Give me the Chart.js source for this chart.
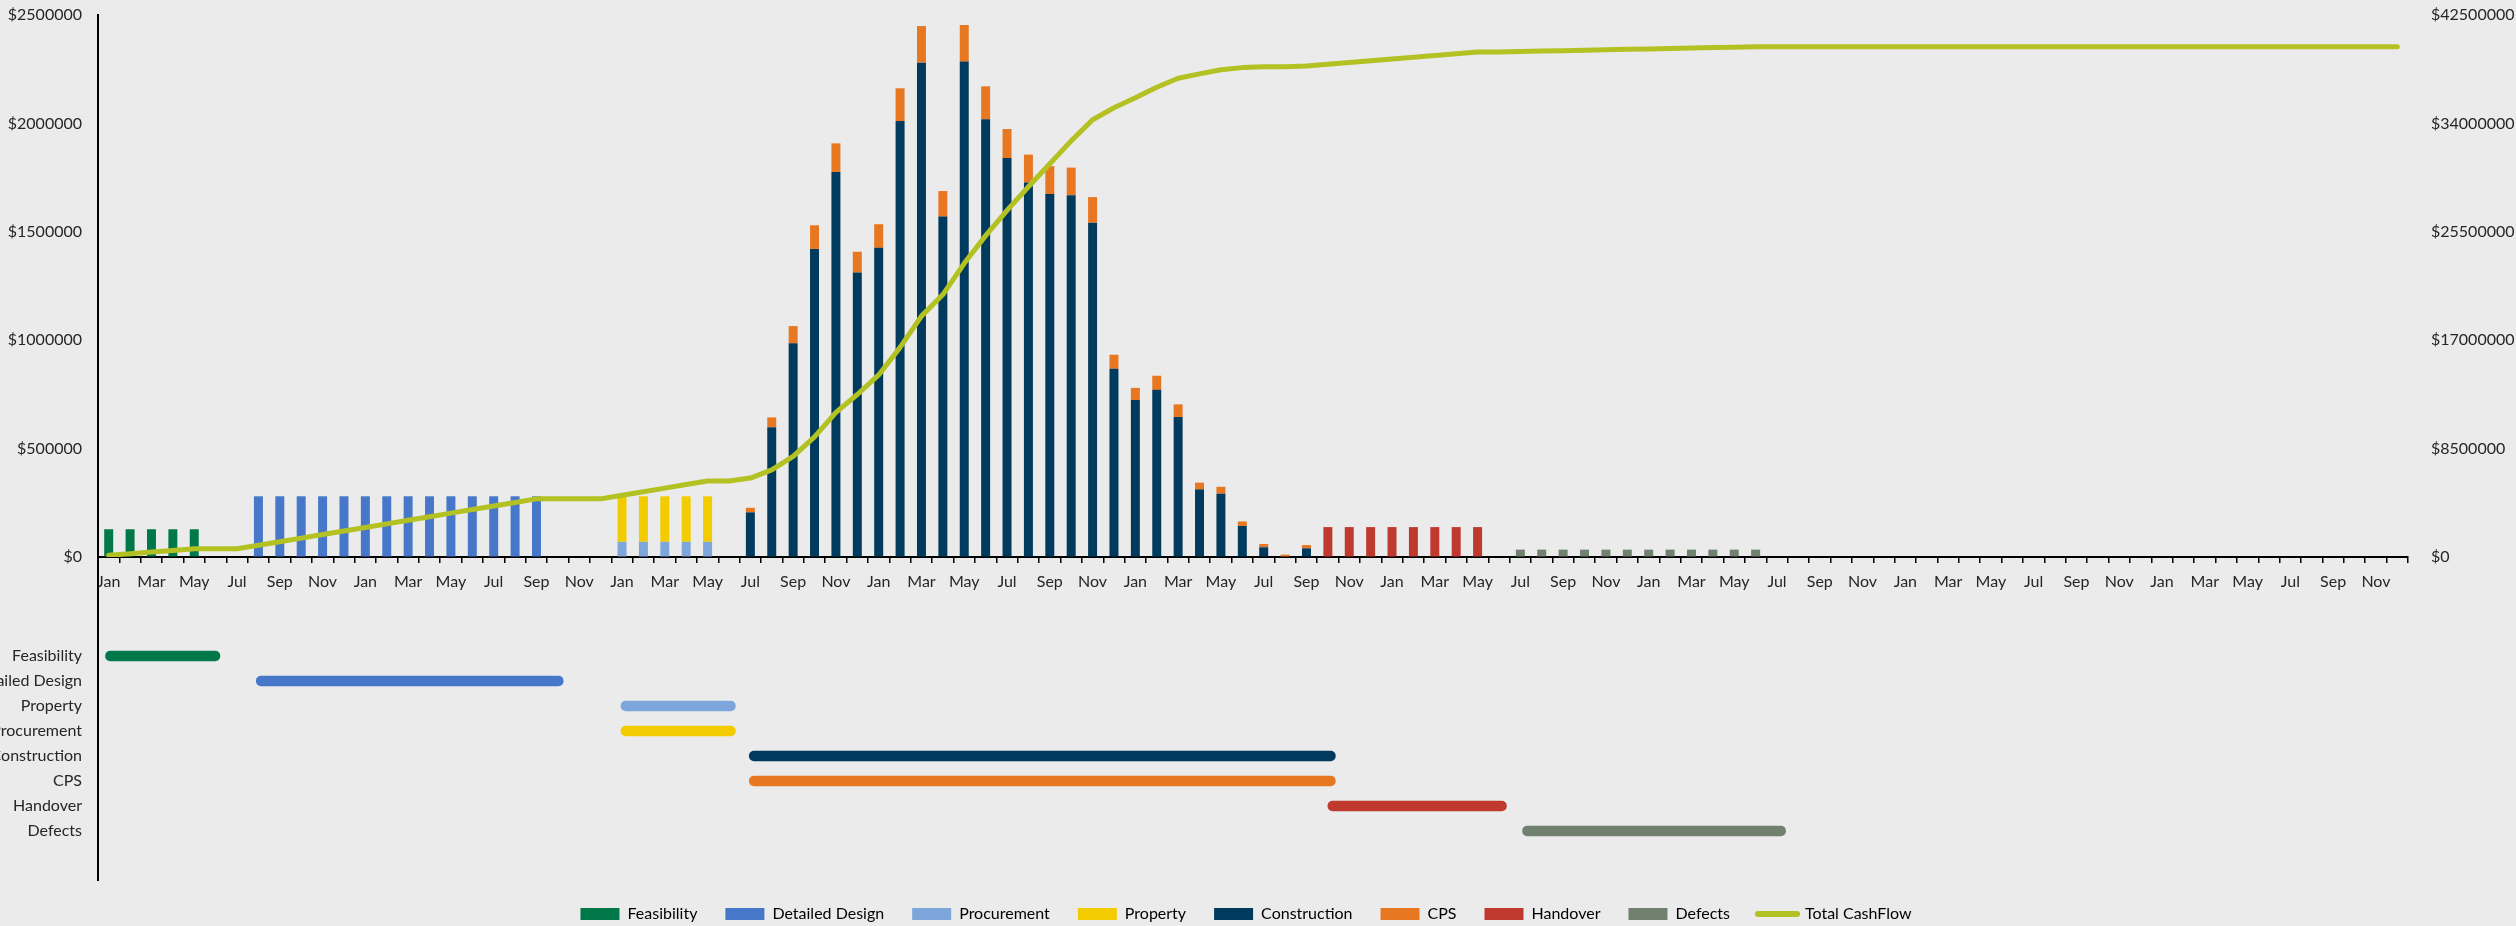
<!DOCTYPE html>
<html>
<head>
<meta charset="utf-8">
<script src="https://cdn.jsdelivr.net/npm/chart.js@4/dist/chart.umd.min.js"></script>
<style>
html,body{margin:0;padding:0;background:#ebebeb;overflow:hidden;}
#wrap{position:relative;width:2516px;height:926px;background:#ebebeb;overflow:hidden;}
#topChart{position:absolute;left:0;top:0;}
#botChart{position:absolute;left:0;top:611px;}
</style>
</head>
<body>
<div id="wrap">
<canvas id="topChart" width="2516" height="611"></canvas>
<canvas id="botChart" width="2516" height="321"></canvas>
</div>
<script>
// ---------- DATA ----------
const monthNames = ['Jan','Feb','Mar','Apr','May','Jun','Jul','Aug','Sep','Oct','Nov','Dec'];
const yearCount = 9;

const leftTicks = { min: 0, max: 2500000, step: 500000 };
const rightTicks = { min: 0, max: 42500000, step: 8500000 };

const feasibilityStart = 0;
const feasibility = [128000, 128000, 128000, 128000, 128000];

const detailedDesignStart = 7;
const detailedDesign = [280000, 280000, 280000, 280000, 280000, 280000, 280000,
                        280000, 280000, 280000, 280000, 280000, 280000, 280000];

const procurementStart = 24;
const procurement = [70000, 70000, 70000, 70000, 70000];

const propertyStart = 24;
const property = [210000, 210000, 210000, 210000, 210000];

const constructionStart = 30;
const construction = [206000, 599000, 986000, 1421000, 1776000, 1312000, 1426000, 2011000, 2280000,
                      1570000, 2285000, 2019000, 1840000, 1727000, 1674000, 1669000, 1542000, 868000,
                      724000, 771000, 646000, 312000, 292000, 143000, 45000, 0, 40000];

const cpsStart = 30;
const cps = [21000, 45000, 79000, 109000, 132000, 96000, 109000, 151000, 169000,
             118000, 169000, 152000, 134000, 129000, 129000, 127000, 118000, 65000,
             56000, 65000, 58000, 31000, 32000, 21000, 15000, 11000, 15000];

const handoverStart = 57;
const handover = [138000, 138000, 138000, 138000, 138000, 138000, 138000, 138000];

const defectsStart = 66;
const defects = [34000, 34000, 34000, 34000, 34000, 34000, 34000, 34000, 34000, 34000, 34000, 34000];

const totalCashFlow = [
  128000, 256000, 384000, 512000, 640000, 640000, 640000, 920000, 1200000, 1480000,
  1760000, 2040000, 2320000, 2600000, 2880000, 3160000, 3440000, 3720000, 4000000, 4280000,
  4560000, 4560000, 4560000, 4560000, 4840000, 5120000, 5400000, 5680000, 5960000, 5960000,
  6187000, 6831000, 7896000, 9426000, 11334000, 12742000, 14277000, 16439000, 18888000, 20576000,
  23030000, 25201000, 27175000, 29031000, 30834000, 32630000, 34290000, 35223000, 36003000, 36839000,
  37543000, 37886000, 38210000, 38374000, 38434000, 38445000, 38500000, 38638000, 38776000, 38914000,
  39052000, 39190000, 39328000, 39466000, 39604000, 39604000, 39638000, 39672000, 39706000, 39740000,
  39774000, 39808000, 39842000, 39876000, 39910000, 39944000, 39978000, 40012000, 40012000, 40012000,
  40012000, 40012000, 40012000, 40012000, 40012000, 40012000, 40012000, 40012000, 40012000, 40012000,
  40012000, 40012000, 40012000, 40012000, 40012000, 40012000, 40012000, 40012000, 40012000, 40012000,
  40012000, 40012000, 40012000, 40012000, 40012000, 40012000, 40012000, 40012000
];

// Gantt phases (in month units on the shared time axis)
const phases = ['Feasibility', 'Detailed Design', 'Property', 'Procurement', 'Construction', 'CPS', 'Handover', 'Defects'];
const phaseStart = [0.35, 7.4, 24.45, 24.45, 30.45, 30.45, 57.5, 66.6];
const phaseEnd   = [5.7, 21.75, 29.8, 29.8, 57.85, 57.85, 65.85, 78.9];

// ---------- STYLE ----------
const C = {
  feasibility: '#00784a',
  detailedDesign: '#4677c8',
  procurement: '#7da7dc',
  property: '#f2cc00',
  construction: '#003a5c',
  cps: '#e87722',
  handover: '#c0392f',
  defects: '#718170',
  total: '#b3c123'
};
const FONT = 'Lato, "Liberation Sans", sans-serif';
const TXT = '#262626';

const categories = [];
for (let y = 0; y < yearCount; y++) for (const m of monthNames) categories.push(m);

function placeSeries(start, values) {
  const arr = new Array(categories.length).fill(null);
  values.forEach((v, i) => { arr[start + i] = v; });
  return arr;
}

function barDs(label, start, values, color) {
  return {
    type: 'bar', label, data: placeSeries(start, values),
    backgroundColor: color, borderWidth: 0, stack: 'cost', yAxisID: 'y',
    barPercentage: 0.42, categoryPercentage: 1.0, order: 1
  };
}

const axisExtension = {
  id: 'axisExtension',
  afterDraw(chart, args, opts) {
    const ctx = chart.ctx;
    const x = Math.round(chart.chartArea.left);
    ctx.save();
    ctx.strokeStyle = '#000';
    ctx.lineWidth = 2;
    ctx.beginPath();
    ctx.moveTo(x, opts.from(chart));
    ctx.lineTo(x, opts.to(chart));
    ctx.stroke();
    ctx.restore();
  }
};

// ---------- TOP CHART ----------
new Chart(document.getElementById('topChart'), {
  type: 'bar',
  data: {
    labels: categories,
    datasets: [
      barDs('Feasibility', feasibilityStart, feasibility, C.feasibility),
      barDs('Detailed Design', detailedDesignStart, detailedDesign, C.detailedDesign),
      barDs('Procurement', procurementStart, procurement, C.procurement),
      barDs('Property', propertyStart, property, C.property),
      barDs('Construction', constructionStart, construction, C.construction),
      barDs('CPS', cpsStart, cps, C.cps),
      barDs('Handover', handoverStart, handover, C.handover),
      barDs('Defects', defectsStart, defects, C.defects),
      {
        type: 'line', label: 'Total CashFlow', data: totalCashFlow, yAxisID: 'y2',
        borderColor: C.total, backgroundColor: C.total, borderWidth: 5,
        pointRadius: 0, tension: 0, fill: false, order: 0,
        borderCapStyle: 'round', borderJoinStyle: 'round'
      }
    ]
  },
  options: {
    responsive: false, animation: false,
    layout: { padding: { left: 0, right: 0, top: 15, bottom: 0 } },
    scales: {
      x: {
        type: 'category', offset: true,
        grid: { display: true, offset: true, drawOnChartArea: false, drawTicks: true, tickLength: 6, color: '#000', lineWidth: 1.5 },
        border: { display: true, color: '#000', width: 2 },
        ticks: {
          autoSkip: false, maxRotation: 0, minRotation: 0, padding: 9,
          font: { family: FONT, size: 16 }, color: TXT,
          callback: function (v, i) { return i % 2 === 0 ? categories[i] : ''; }
        },
        afterFit: s => { s.height = 54; }
      },
      y: {
        position: 'left', min: leftTicks.min, max: leftTicks.max, stacked: true,
        ticks: { stepSize: leftTicks.step, padding: 0, font: { family: FONT, size: 16 }, color: TXT,
                 callback: v => '$' + v },
        grid: { display: true, drawOnChartArea: false, drawTicks: true, tickLength: 16, color: 'rgba(0,0,0,0)' },
        border: { display: true, color: '#000', width: 2 },
        afterFit: s => { s.width = 98; }
      },
      y2: {
        position: 'right', min: rightTicks.min, max: rightTicks.max,
        ticks: { stepSize: rightTicks.step, padding: 0, font: { family: FONT, size: 16 }, color: TXT,
                 callback: v => '$' + v },
        grid: { display: true, drawOnChartArea: false, drawTicks: true, tickLength: 23, color: 'rgba(0,0,0,0)' },
        border: { display: false },
        afterFit: s => { s.width = 108; }
      }
    },
    plugins: {
      legend: { display: false },
      tooltip: { enabled: false },
      axisExtension: { from: ch => ch.chartArea.bottom, to: ch => ch.height }
    }
  },
  plugins: [axisExtension]
});

// ---------- BOTTOM (GANTT) CHART ----------
const legendItems = [
  { text: 'Feasibility', color: C.feasibility },
  { text: 'Detailed Design', color: C.detailedDesign },
  { text: 'Procurement', color: C.procurement },
  { text: 'Property', color: C.property },
  { text: 'Construction', color: C.construction },
  { text: 'CPS', color: C.cps },
  { text: 'Handover', color: C.handover },
  { text: 'Defects', color: C.defects },
  { text: 'Total CashFlow', color: C.total, line: true }
];

const phaseColors = [C.feasibility, C.detailedDesign, C.procurement, C.property, C.construction, C.cps, C.handover, C.defects];

new Chart(document.getElementById('botChart'), {
  type: 'bar',
  data: {
    labels: phases,
    datasets: [{
      label: 'Phases',
      data: phases.map((p, i) => [phaseStart[i], phaseEnd[i]]),
      backgroundColor: phaseColors,
      borderWidth: 0, borderRadius: 5, borderSkipped: false,
      barThickness: 10
    }]
  },
  options: {
    indexAxis: 'y', responsive: false, animation: false,
    layout: { padding: { left: 0, right: 24, top: 32.5, bottom: 0 } },
    scales: {
      x: {
        type: 'linear', min: 0, max: categories.length,
        ticks: { display: false }, grid: { display: false }, border: { display: false },
        afterFit: s => { s.height = 34.5; }
      },
      y: {
        position: 'left',
        ticks: { padding: 8, font: { family: FONT, size: 16 }, color: TXT },
        grid: { display: false }, border: { display: false },
        afterFit: s => { s.width = 98; }
      },
      yR: {
        position: 'right', axis: 'y', type: 'category',
        ticks: { display: false }, grid: { display: false }, border: { display: false },
        afterFit: s => { s.width = 84; }
      }
    },
    plugins: {
      tooltip: { enabled: false },
      legend: {
        display: true, position: 'bottom', align: 'center',
        labels: {
          usePointStyle: true, pointStyleWidth: 39, boxHeight: 12, padding: 28,
          font: { family: FONT, size: 16 }, color: TXT,
          generateLabels: () => legendItems.map(it => ({
            text: it.text,
            fillStyle: it.line ? 'rgba(0,0,0,0)' : it.color,
            strokeStyle: it.color,
            lineWidth: it.line ? 6 : 0,
            lineCap: 'round',
            pointStyle: it.line ? 'line' : 'rect',
            hidden: false
          }))
        }
      },
      axisExtension: { from: ch => 0, to: ch => 270 }
    }
  },
  plugins: [axisExtension]
});
</script>
</body>
</html>
